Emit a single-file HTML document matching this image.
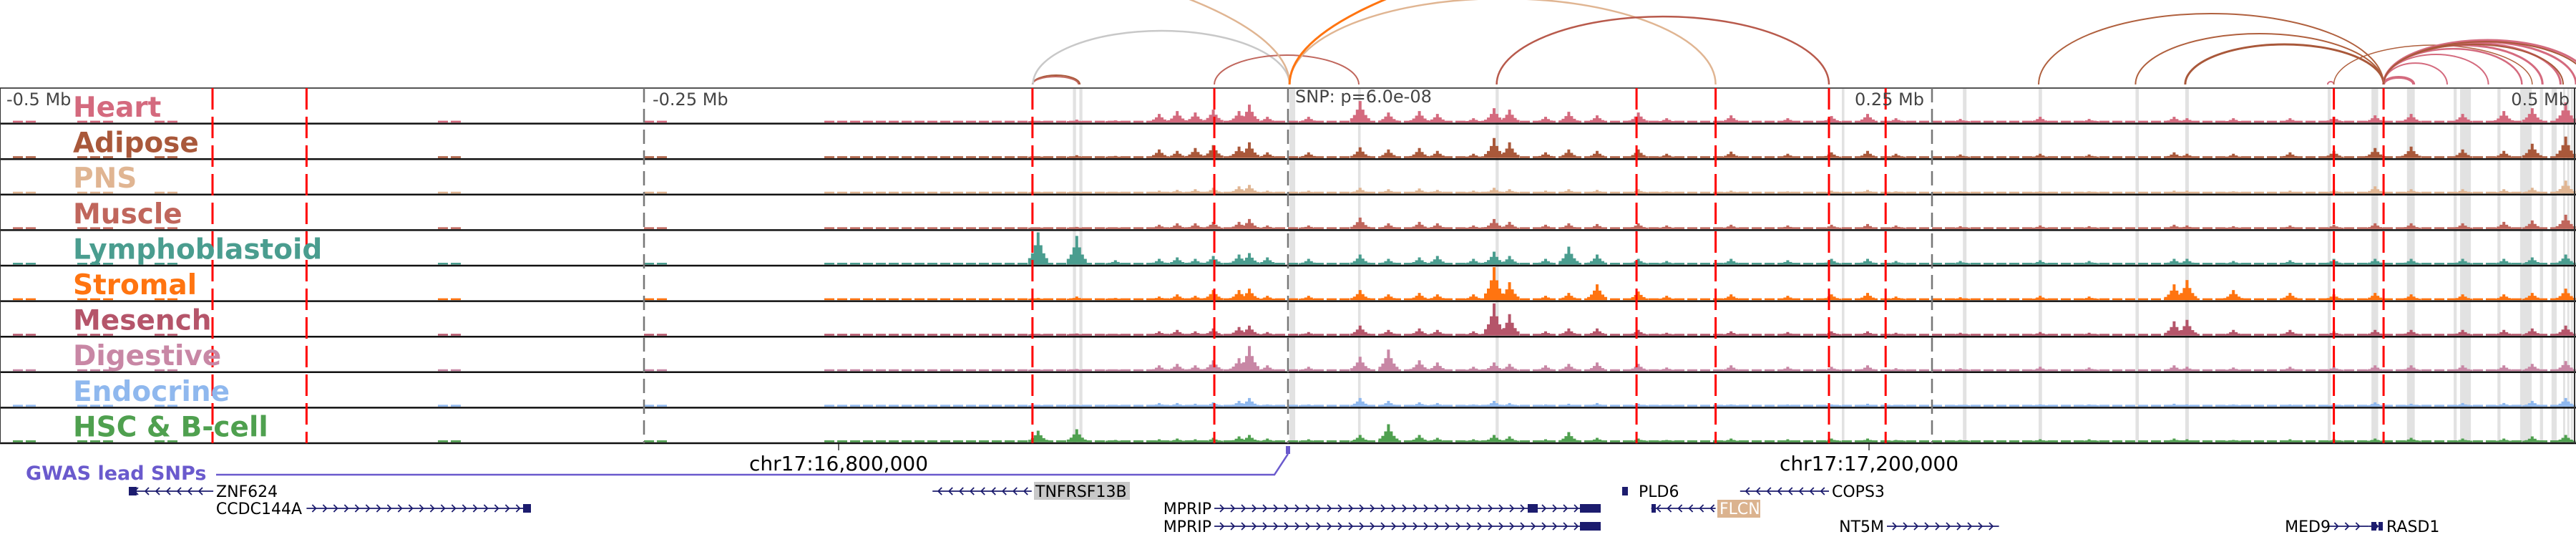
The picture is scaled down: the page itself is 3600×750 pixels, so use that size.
<!DOCTYPE html>
<html><head><meta charset="utf-8">
<style>
html,body{margin:0;padding:0;background:#fff;}
svg{display:block;}
text{font-family:"DejaVu Sans","Liberation Sans",sans-serif;}
</style></head>
<body>
<svg id="chart" width="3600" height="750" viewBox="0 0 3600 750" xmlns="http://www.w3.org/2000/svg">
<g id="shade"></g>
<g id="arcs"></g>
<g id="tracks"></g>
<g id="vlines"></g>
<g id="labels"></g>
<g id="axis">
  <text x="9" y="147" font-size="24" fill="#444">-0.5 Mb</text>
  <text x="912" y="147" font-size="24" fill="#444">-0.25 Mb</text>
  <text x="2689" y="147" font-size="24" fill="#444" text-anchor="end">0.25 Mb</text>
  <text x="3591" y="147" font-size="24" fill="#444" text-anchor="end">0.5 Mb</text>
  <text x="1810" y="143" font-size="24" fill="#444">SNP: p=6.0e-08</text>
  <line x1="1172" y1="620" x2="1172" y2="629" stroke="#333" stroke-width="1.5"/>
  <line x1="2612" y1="620" x2="2612" y2="629" stroke="#333" stroke-width="1.5"/>
  <text x="1172" y="657" font-size="28" text-anchor="middle" fill="#000">chr17:16,800,000</text>
  <text x="2612" y="657" font-size="28" text-anchor="middle" fill="#000">chr17:17,200,000</text>
</g>
<g id="gwas">
  <text x="36" y="670" font-size="27" font-weight="bold" fill="#6a5acd">GWAS lead SNPs</text>
  <polyline points="302,663 1781,663 1800,634" fill="none" stroke="#6a5acd" stroke-width="2.5"/>
  <rect x="1797" y="623" width="6" height="11" fill="#6a5acd"/>
</g>
<g id="genes"></g>
</svg>
<script>
var NS="http://www.w3.org/2000/svg";
// ---- data ----
var trackNames=["Heart","Adipose","PNS","Muscle","Lymphoblastoid","Stromal","Mesench","Digestive","Endocrine","HSC & B-cell"];
var trackColors=["#d46a7e","#a9583a","#e0b592","#c0665c","#4a9d8f","#ff7410","#b5556a","#c887a5","#8fb8ee","#4fa04f"];
var peakKb=[-97,-82,-67,-50,-43,-36,-29,-19,-15,-8,8,28,39,51,58,72,80,86,100,109,120,136,147,172,194,211,225,236,261,292,311,344,349,367,389,406,422,436,456,472,483,496];
var heartVals=[2,4,3,12,16,14,18,16,25,8,8,30,14,16,12,6,20,18,8,15,10,14,6,10,6,9,12,6,5,8,5,8,6,6,6,8,10,12,12,16,20,28];
var adiposeVals=[2,4,3,12,10,14,18,16,22,8,8,15,12,14,10,6,28,22,8,12,10,12,6,9,6,8,10,6,5,6,5,8,6,6,8,10,14,16,12,10,20,30];
var pnsVals=[1,2,2,4,5,6,8,10,12,4,4,8,6,7,5,4,8,6,4,6,5,6,3,4,3,4,5,3,3,3,3,4,4,3,4,5,10,6,6,6,8,18];
var muscleVals=[2,3,2,6,8,8,10,10,14,5,5,16,8,10,8,5,14,10,6,8,7,8,5,6,5,6,7,5,4,5,4,6,5,4,5,6,8,8,8,10,12,20];
var lymphVals=[45,40,6,8,10,8,12,14,16,10,8,14,8,10,12,8,18,12,8,25,14,8,5,8,6,8,8,5,5,6,5,8,8,5,6,8,8,8,8,8,10,14];
var stromalVals=[3,5,3,5,8,6,14,14,16,6,6,14,8,10,8,8,46,25,6,10,22,12,6,8,6,8,10,5,4,6,5,22,28,14,10,8,10,8,8,8,10,16];
var mesenchVals=[2,3,2,6,8,6,10,12,14,5,5,14,8,10,8,6,45,30,6,10,10,8,4,6,5,6,6,4,4,5,4,20,22,8,8,6,8,8,8,8,10,14];
var digestiveVals=[2,3,2,8,10,8,15,18,35,8,6,20,30,15,12,6,12,10,8,10,12,10,5,8,6,6,8,4,4,6,5,8,6,5,6,6,8,8,8,8,10,14];
var endocrineVals=[1,2,1,5,5,4,6,8,12,3,3,12,8,6,5,3,8,5,3,4,5,4,2,3,3,3,4,2,2,3,3,4,3,3,3,3,6,4,5,5,8,12];
var hscVals=[16,18,3,4,5,4,6,8,10,5,4,10,25,10,6,4,10,8,4,14,6,5,3,5,4,5,5,3,3,4,4,5,4,3,4,4,5,6,5,5,8,10];
var trackVals=[heartVals,adiposeVals,pnsVals,muscleVals,lymphVals,stromalVals,mesenchVals,digestiveVals,endocrineVals,hscVals];
var baseStartKb=[-495,-470,-440,-330,-250,-180];
var baseEndKb=[-485,-455,-430,-320,-240,500];
var redLineKb=[-417.5,-381,-99.2,-28.6,135.3,166,210,232,406,425.3];
var grayLineKb=[-250,0,250];
var shadeStartKb=[-83.5,-81,0.6,27.2,80.6,215,262,291.4,329,348.3,403.6,420.6,434.4,452.5,455,469.5,478.3,486,490.5,495,496.6,498,502];
var shadeWidthKb=[1.2,1.2,2.2,1,1.2,1,1.4,1.3,1.3,1.4,1.2,2.6,3,1.2,4.2,1.2,4.5,1.2,2,0.8,0.8,0.8,4.6];
var arcStartKb=[-99.2,-99.2,-99,-28.6,-600,0.6,0.6,81,291.4,329,348.3,403.6,406,425.3,425.3,425.3,425.3,425.3,425.3,425.3,425.3,425.3,425.3];
var arcEndKb=[-80.8,-81.3,0.6,27.5,0.6,166,750,210,425.3,425.3,425.3,406,483,437,450,466,479,487,494,500,506,495,505];
var arcHeight=[13,11,75,41,242,120,274,95,99,71,56,4,55,10,30,42,50,55,58,60,62,56,60];
var arcColor=["#a9583a","#c0665c","#c8c8c8","#c0665c","#e0b592","#e0b592","#ff7410","#b85a4c","#b0603e","#b0603e","#a9583a","#d46a7e","#b0603e","#d46a7e","#d46a7e","#d46a7e","#d46a7e","#d46a7e","#d46a7e","#d46a7e","#d46a7e","#a9583a","#a9583a"];
var arcWidth=[2,2,2.5,2,2.5,2.5,3,2.5,2,2,3,2,1.5,4,2,2,2.5,3,3,3,3,2,2];

// ---- scales ----
function xs(kb){return 1800+kb*3.6;}
var trackTop=123, trackH=49.6, arcBase=118;

var shade=document.getElementById('shade');
for(var i=0;i<shadeStartKb.length;i++){
  var r=document.createElementNS(NS,'rect');
  
  
  r.setAttribute('x',xs(shadeStartKb[i]));r.setAttribute('y',trackTop);
  r.setAttribute('width',Math.max(2,shadeWidthKb[i]*3.6));r.setAttribute('height',trackH*10);
  r.setAttribute('fill','#e2e2e2');shade.appendChild(r);
}
var arcs=document.getElementById('arcs');
for(var i=0;i<arcStartKb.length;i++){
  var x1=xs(arcStartKb[i]),x2=xs(arcEndKb[i]),rx=Math.abs(x2-x1)/2,h=arcHeight[i];
  var p=document.createElementNS(NS,'path');
  
  
  p.setAttribute('d','M'+x1+','+arcBase+' A'+rx+','+h+' 0 0 1 '+x2+','+arcBase);
  p.setAttribute('fill','none');p.setAttribute('stroke',arcColor[i]);p.setAttribute('stroke-width',arcWidth[i]);
  arcs.appendChild(p);
}
var tracks=document.getElementById('tracks');
var shapeF=[0.2,0.35,0.6,1,0.6,0.35,0.2];
for(var t=0;t<10;t++){
  var g=document.createElementNS(NS,'g');
  
  
  var base=trackTop+trackH*(t+1)-1.5, col=trackColors[t], d='';
  for(var b=0;b<baseStartKb.length;b++){
    var xa=xs(baseStartKb[b]),xb=xs(baseEndKb[b]);
    for(var x=xa;x<xb;x+=18){var w=Math.min(14,xb-x);d+='M'+x+','+base+'h'+w+'v-2.5h-'+w+'z';}
  }
  var vals=trackVals[t];
  for(var k=0;k<peakKb.length;k++){
    var cx=xs(peakKb[k]);
    for(var s=0;s<shapeF.length;s++){
      var hh=Math.max(2,vals[k]*shapeF[s]);
      d+='M'+(cx+(s-3)*4-2)+','+base+'h4v-'+hh+'h-4z';
    }
  }
  var p=document.createElementNS(NS,'path');
  
  
  p.setAttribute('d',d);p.setAttribute('fill',col);g.appendChild(p);
  var ln=document.createElementNS(NS,'line');
  
  
  ln.setAttribute('x1',0);ln.setAttribute('x2',3600);ln.setAttribute('y1',base+1.5);ln.setAttribute('y2',base+1.5);
  ln.setAttribute('stroke','#111');ln.setAttribute('stroke-width',2.5);g.appendChild(ln);
  tracks.appendChild(g);
}
var topL=document.createElementNS(NS,'line');


topL.setAttribute('x1',0);topL.setAttribute('x2',3600);topL.setAttribute('y1',trackTop);topL.setAttribute('y2',trackTop);
topL.setAttribute('stroke','#555');topL.setAttribute('stroke-width',2);tracks.appendChild(topL);
['0','3598'].forEach(function(xv){
  var l=document.createElementNS(NS,'line');
  
  
  l.setAttribute('x1',xv);l.setAttribute('x2',xv);l.setAttribute('y1',trackTop);l.setAttribute('y2',trackTop+trackH*10);
  l.setAttribute('stroke','#333');l.setAttribute('stroke-width',2);tracks.appendChild(l);
});
var vl=document.getElementById('vlines');
for(var i=0;i<grayLineKb.length;i++){
  var l=document.createElementNS(NS,'line');
  
  
  l.setAttribute('x1',xs(grayLineKb[i]));l.setAttribute('x2',xs(grayLineKb[i]));
  l.setAttribute('y1',trackTop);l.setAttribute('y2',trackTop+trackH*10);
  l.setAttribute('stroke','#777');l.setAttribute('stroke-width',2.5);l.setAttribute('stroke-dasharray','20,9');
  vl.appendChild(l);
}
for(var i=0;i<redLineKb.length;i++){
  var l=document.createElementNS(NS,'line');
  
  
  l.setAttribute('x1',xs(redLineKb[i]));l.setAttribute('x2',xs(redLineKb[i]));
  l.setAttribute('y1',trackTop);l.setAttribute('y2',trackTop+trackH*10);
  l.setAttribute('stroke','#ff0000');l.setAttribute('stroke-width',3);l.setAttribute('stroke-dasharray','30,10');
  vl.appendChild(l);
}
var lab=document.getElementById('labels');
for(var t=0;t<10;t++){
  var tx=document.createElementNS(NS,'text');
  
  
  tx.setAttribute('x',102);tx.setAttribute('y',trackTop+40+trackH*t);
  tx.setAttribute('font-size',39);tx.setAttribute('font-weight','bold');tx.setAttribute('fill',trackColors[t]);
  tx.textContent=trackNames[t];lab.appendChild(tx);
}
// genes
var geneNames=["ZNF624","CCDC144A","TNFRSF13B","MPRIP","MPRIP","PLD6","FLCN","COPS3","NT5M","MED9","RASD1"];
var geneStartKb=[-450,-381,-138,-28.6,-28.6,129.7,141,175.5,232.5,404,419.5];
var geneEndKb=[-417.2,-294,-99.5,121.4,121.4,131.9,166,210,276,419.5,424];
var geneStrand=[-1,1,-1,1,1,-1,-1,-1,1,1,1];
var geneY=[686,710,686,710,735,686,710,686,735,735,735];
var genes=document.getElementById('genes');
function gtext(name,x,y,anchor,fill){
  var t=document.createElementNS(NS,'text');
  
  
  t.setAttribute('x',x);t.setAttribute('y',y);t.setAttribute('font-size',22);
  t.setAttribute('text-anchor',anchor);t.setAttribute('fill',fill||'#000');t.textContent=name;genes.appendChild(t);
}
for(var i=0;i<geneNames.length;i++){
  var x1=xs(geneStartKb[i]),x2=xs(geneEndKb[i]),y=geneY[i],d='M'+x1+','+y+'H'+x2;
  for(var x=x1+8;x<x2-6;x+=15){
    if(geneStrand[i]>0)d+='M'+x+','+(y-5)+'l5,5l-5,5';else d+='M'+(x+5)+','+(y-5)+'l-5,5l5,5';
  }
  var p=document.createElementNS(NS,'path');
  
  
  p.setAttribute('d',d);p.setAttribute('stroke','#1c1c6e');p.setAttribute('stroke-width',1.8);p.setAttribute('fill','none');
  genes.appendChild(p);
}
function exon(x,y,w){var r=document.createElementNS(NS,'rect');
  
  
  r.setAttribute('x',x);r.setAttribute('y',y-6);r.setAttribute('width',w);r.setAttribute('height',12);r.setAttribute('fill','#1c1c6e');genes.appendChild(r);}
exon(180,686,11);exon(731,710,11);exon(2135,710,14);exon(2208,710,29);exon(2208,735,29);exon(2267,686,8);exon(2308,710,6);exon(3314,735,7);exon(3324,735,6);
gtext("ZNF624",302,694,"start");
gtext("CCDC144A",422,718,"end");
var bg=document.createElementNS(NS,'rect');


bg.setAttribute('x',1445);bg.setAttribute('y',673);bg.setAttribute('width',134);bg.setAttribute('height',25);bg.setAttribute('fill','#c8c8c8');genes.appendChild(bg);
gtext("TNFRSF13B",1447,694,"start");
gtext("MPRIP",1693,718,"end");
gtext("MPRIP",1693,743,"end");
gtext("PLD6",2290,694,"start");
var bg2=document.createElementNS(NS,'rect');


bg2.setAttribute('x',2400);bg2.setAttribute('y',698);bg2.setAttribute('width',60);bg2.setAttribute('height',25);bg2.setAttribute('fill','#dbb38f');genes.appendChild(bg2);
gtext("FLCN",2403,718,"start","#fff");
gtext("COPS3",2560,694,"start");
gtext("NT5M",2633,743,"end");
gtext("MED9",3257,743,"end");
gtext("RASD1",3335,743,"start");
</script>
</body></html>
